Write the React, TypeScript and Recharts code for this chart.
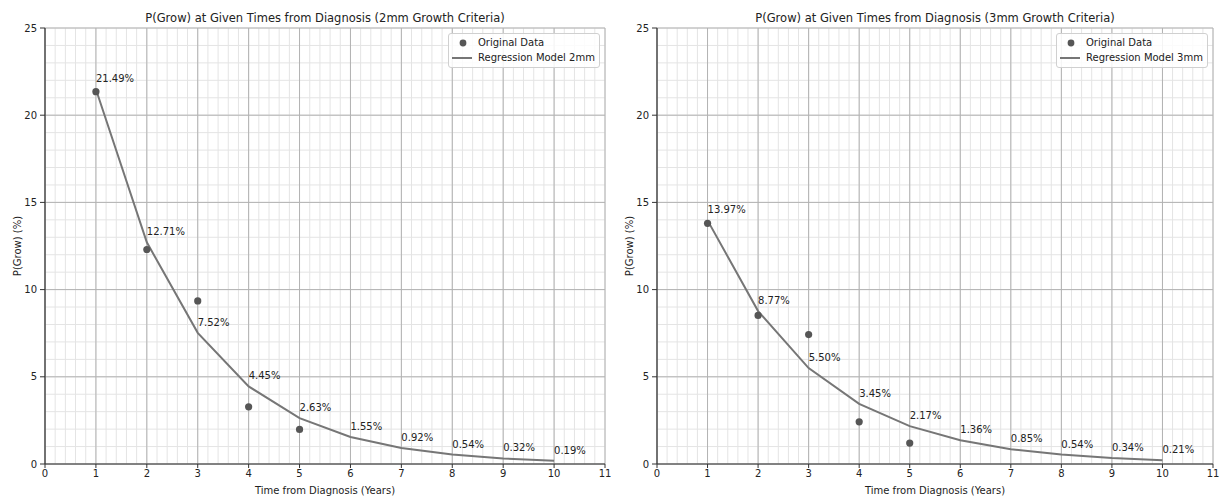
import { ComposedChart, Line, Scatter, XAxis, YAxis, CartesianGrid, LabelList } from 'recharts';

const years = [1, 2, 3, 4, 5, 6, 7, 8, 9, 10];
const observedYears = [1, 2, 3, 4, 5];

const model2mm = [21.49, 12.71, 7.52, 4.45, 2.63, 1.55, 0.92, 0.54, 0.32, 0.19];
const observed2mm = [21.35, 12.3, 9.35, 3.28, 1.98];

const model3mm = [13.97, 8.77, 5.5, 3.45, 2.17, 1.36, 0.85, 0.54, 0.34, 0.21];
const observed3mm = [13.8, 8.52, 7.42, 2.42, 1.2];

const xTicks = [0, 1, 2, 3, 4, 5, 6, 7, 8, 9, 10, 11];
const yTicks = [0, 5, 10, 15, 20, 25];
// minor grid: every 0.2 on x, every 1 on y
const xMinor = Array.from({ length: 56 }, (_, i) => Math.round(i * 2) / 10);
const yMinor = Array.from({ length: 26 }, (_, i) => i);

const FONT = '"DejaVu Sans", sans-serif';
const DOT = '#565656';
const LINE = '#767676';
const TEXT = '#222';

const noLabel = () => <g />;

type PanelProps = {
  left: number;
  width: number;
  rightMargin: number;
  title: string;
  modelLabel: string;
  model: number[];
  observed: number[];
};

function Panel({ left, width, rightMargin, title, modelLabel, model, observed }: PanelProps) {
  const lineData = years.map((x, i) => ({ x, y: model[i] }));
  const dotData = observedYears.map((x, i) => ({ x, y: observed[i] }));
  const plotLeft = 45;
  const plotW = width - plotLeft - rightMargin;
  const tickStyle = { fontSize: 10, fill: TEXT, fontFamily: FONT };

  return (
    <div style={{ position: 'absolute', left, top: 0, width, height: 499 }}>
      <ComposedChart width={width} height={499} margin={{ top: 28, right: rightMargin, bottom: 0, left: 0 }}>
        <CartesianGrid xAxisId="main" yAxisId="main" verticalValues={xMinor} horizontalValues={yMinor}
          stroke="#e4e4e4" strokeWidth={1} />
        <CartesianGrid xAxisId="main" yAxisId="main" stroke="#b2b2b2" strokeWidth={1} />

        <XAxis xAxisId="minor" type="number" dataKey="x" domain={[0, 11]} ticks={xMinor} interval={0}
          allowDataOverflow tick={noLabel} axisLine={false} tickSize={2} height={0} tickLine={{ stroke: '#333' }} />
        <XAxis xAxisId="main" type="number" dataKey="x" domain={[0, 11]} ticks={xTicks} interval={0}
          allowDataOverflow height={35} tickSize={4} tickMargin={2} tick={tickStyle}
          axisLine={{ stroke: '#333', strokeWidth: 1.2 }} tickLine={{ stroke: '#333' }} />
        <XAxis xAxisId="top" orientation="top" type="number" domain={[0, 11]} ticks={xTicks}
          allowDataOverflow height={0} tick={false} tickLine={false} axisLine={{ stroke: '#333', strokeWidth: 1.2 }} />

        <YAxis yAxisId="minor" type="number" domain={[0, 25]} ticks={yMinor} interval={0}
          allowDataOverflow tick={noLabel} axisLine={false} tickSize={2} width={0} tickLine={{ stroke: '#333' }} />
        <YAxis yAxisId="main" type="number" domain={[0, 25]} ticks={yTicks} interval={0}
          allowDataOverflow width={45} tickSize={5} tickMargin={3} tick={tickStyle}
          axisLine={{ stroke: '#333', strokeWidth: 1.2 }} tickLine={{ stroke: '#333' }} />
        <YAxis yAxisId="right" orientation="right" type="number" domain={[0, 25]} ticks={yTicks}
          allowDataOverflow width={0} tick={false} tickLine={false} axisLine={{ stroke: '#333', strokeWidth: 1.2 }} />

        <Line xAxisId="main" yAxisId="main" data={lineData} dataKey="y" type="linear" stroke={LINE}
          strokeWidth={2} dot={false} isAnimationActive={false}>
          <LabelList dataKey="y" content={(p: any) => (
            <text x={p.x} y={p.y - 7} fontSize={10} fill={TEXT} fontFamily={FONT}>
              {Number(p.value).toFixed(2)}%
            </text>
          )} />
        </Line>
        <Scatter xAxisId="main" yAxisId="main" data={dotData} dataKey="y" fill={DOT} isAnimationActive={false}
          shape={(p: any) => <circle cx={p.cx} cy={p.cy} r={3.6} fill={DOT} />} />
      </ComposedChart>

      <div style={{ position: 'absolute', left: plotLeft, width: plotW, top: 11, textAlign: 'center',
        fontFamily: FONT, fontSize: 11.5, lineHeight: '14px', color: TEXT, whiteSpace: 'nowrap' }}>{title}</div>

      <div style={{ position: 'absolute', left: plotLeft, width: plotW, top: 484, textAlign: 'center',
        fontFamily: FONT, fontSize: 10, lineHeight: '13px', color: TEXT, whiteSpace: 'nowrap' }}>Time from Diagnosis (Years)</div>

      <div style={{ position: 'absolute', left: 17, top: 246, width: 0, height: 0 }}>
        <div style={{ position: 'absolute', left: 0, top: 0, transform: 'translate(-50%, -50%) rotate(-90deg)',
          fontFamily: FONT, fontSize: 10, lineHeight: '13px', color: TEXT, whiteSpace: 'nowrap' }}>P(Grow) (%)</div>
      </div>

      <div style={{ position: 'absolute', left: plotLeft + plotW - 157, top: 33, width: 152, height: 35,
        border: '1px solid #d0d0d0', borderRadius: 3, background: 'rgba(255,255,255,0.85)', boxSizing: 'border-box',
        fontFamily: FONT, fontSize: 10, color: TEXT }}>
        <svg width={30} height={35} style={{ position: 'absolute', left: 0, top: 0 }}>
          <circle cx={14} cy={9} r={3.4} fill={DOT} />
          <line x1={3} x2={23} y1={24} y2={24} stroke={LINE} strokeWidth={2} />
        </svg>
        <div style={{ position: 'absolute', left: 29, top: 2, lineHeight: '13px', whiteSpace: 'nowrap' }}>Original Data</div>
        <div style={{ position: 'absolute', left: 29, top: 17, lineHeight: '13px', whiteSpace: 'nowrap' }}>{modelLabel}</div>
      </div>
    </div>
  );
}

export default function App() {
  return (
    <div style={{ position: 'absolute', left: 0, top: 0, width: 1221, height: 499, background: '#fff' }}>
      <Panel left={0} width={611} rightMargin={6}
        title="P(Grow) at Given Times from Diagnosis (2mm Growth Criteria)"
        modelLabel="Regression Model 2mm" model={model2mm} observed={observed2mm} />
      <Panel left={612} width={609} rightMargin={8}
        title="P(Grow) at Given Times from Diagnosis (3mm Growth Criteria)"
        modelLabel="Regression Model 3mm" model={model3mm} observed={observed3mm} />
    </div>
  );
}
